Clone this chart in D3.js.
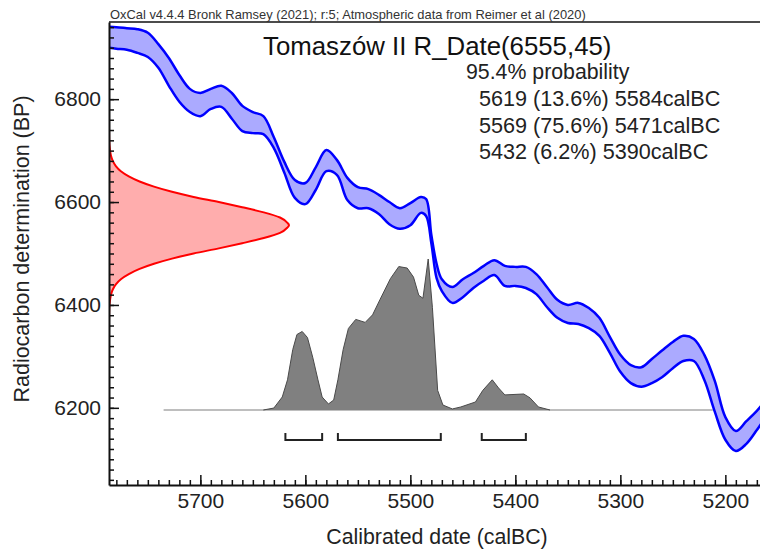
<!DOCTYPE html>
<html lang="en">
<head>
  <meta charset="UTF-8">
  <title>Tomaszów II R_Date</title>
  <script src="https://d3js.org/d3.v7.min.js"></script>
  <style>
    body { margin: 0; background: #fff; }
    svg { font-family: "Liberation Sans", Arial, sans-serif; }
  </style>
</head>
<body>
  <div id="root"></div>
  <script>
    // calibration curve (IntCal20)
    const calYears = [5787, 5780, 5770, 5760, 5750, 5740, 5730, 5720, 5710, 5700, 5690, 5680, 5670, 5660, 5650,
      5640, 5630, 5620, 5610, 5600, 5590, 5580, 5570, 5560, 5550, 5540, 5530, 5520, 5510, 5500, 5490, 5485,
      5480, 5475, 5470, 5460, 5450, 5440, 5430, 5420, 5410, 5400, 5390, 5380, 5370, 5360, 5350, 5340, 5330,
      5320, 5310, 5300, 5290, 5280, 5270, 5260, 5250, 5240, 5230, 5220, 5210, 5200, 5190, 5180, 5170, 5165]
    const upperBP = [6941, 6940, 6938, 6936, 6929, 6907, 6880, 6847, 6820, 6812, 6820, 6826, 6812, 6787, 6775,
      6767, 6726, 6678, 6643, 6637, 6668, 6701, 6682, 6647, 6629, 6625, 6614, 6600, 6588, 6598, 6610, 6606,
      6536, 6480, 6450, 6435, 6450, 6462, 6476, 6487, 6476, 6474, 6474, 6460, 6435, 6410, 6400, 6404, 6394,
      6375, 6338, 6303, 6283, 6279, 6295, 6312, 6328, 6340, 6334, 6303, 6252, 6182, 6155, 6174, 6194, 6206]
    const lowerBP = [6900, 6898, 6896, 6890, 6882, 6861, 6826, 6795, 6775, 6767, 6781, 6785, 6762, 6738, 6734,
      6732, 6705, 6657, 6608, 6596, 6624, 6660, 6653, 6604, 6588, 6588, 6577, 6557, 6548, 6555, 6579, 6573,
      6520, 6452, 6427, 6404, 6415, 6433, 6447, 6458, 6437, 6437, 6433, 6421, 6396, 6375, 6365, 6363, 6355,
      6340, 6307, 6270, 6248, 6241, 6248, 6260, 6277, 6291, 6291, 6254, 6192, 6138, 6116, 6130, 6157, 6172]

    // radiocarbon measurement 6555 ± 45 BP
    const rBP = [6740, 6720, 6700, 6690, 6680, 6670, 6660, 6650, 6640, 6630, 6620, 6610, 6600, 6590, 6580, 6570,
      6560, 6555, 6550, 6540, 6530, 6520, 6510, 6500, 6490, 6480, 6470, 6460, 6450, 6440, 6430, 6420, 6410, 6390, 6370]
    const rDensity = [0.0002, 0.001, 0.006, 0.011, 0.021, 0.038, 0.066, 0.11, 0.17, 0.25, 0.35, 0.47, 0.61, 0.74, 0.86, 0.95,
      0.99, 1, 0.99, 0.95, 0.86, 0.74, 0.61, 0.47, 0.35, 0.25, 0.17, 0.11, 0.066, 0.038, 0.021, 0.011, 0.006, 0.001, 0.0002]

    // calibrated probability
    const distYears = [5640, 5630, 5622, 5617, 5612, 5608, 5603, 5598, 5593, 5588, 5584, 5578, 5573, 5569, 5564, 5559,
      5552, 5543, 5536, 5529, 5519, 5511, 5503, 5497, 5492, 5488, 5483, 5479, 5474, 5469, 5460, 5452, 5438, 5431,
      5422, 5416, 5410, 5392, 5386, 5378, 5367]
    const distProb = [0, 0.013, 0.086, 0.2, 0.4, 0.5, 0.52, 0.48, 0.35, 0.2, 0.086, 0.04, 0.066, 0.2, 0.4, 0.54,
      0.6, 0.58, 0.63, 0.73, 0.87, 0.95, 0.94, 0.88, 0.76, 0.74, 1, 0.68, 0.13, 0.033, 0.007, 0.02, 0.053, 0.13,
      0.2, 0.146, 0.1, 0.106, 0.08, 0.02, 0]
    const distSpan = [5735, 5212]

    // 95.4% ranges
    const rangeFrom = [5619, 5569, 5432]
    const rangeTo = [5584, 5471, 5390]
    const rangeText = ['5619 (13.6%) 5584calBC', '5569 (75.6%) 5471calBC', '5432 (6.2%) 5390calBC']

    const xTicks = [5700, 5600, 5500, 5400, 5300, 5200]
    const yTicks = [6200, 6400, 6600, 6800]

    const width = 760, height = 550
    const mLeft = 109, mRight = 760, mTop = 22, mBottom = 485

    const svg = d3.select('#root')
      .append('svg')
      .attr('width', width)
      .attr('height', height)

    const x = d3.scaleLinear().domain([5787, 5167]).range([mLeft, mRight])
    const y = d3.scaleLinear().domain([6050, 6950]).range([mBottom, mTop])

    svg.append('clipPath').attr('id', 'plot')
      .append('rect').attr('x', mLeft).attr('y', mTop).attr('width', mRight - mLeft).attr('height', mBottom - mTop)

    const plot = svg.append('g').attr('clip-path', 'url(#plot)')

    // red measurement curve on the y axis
    const rWidth = 180
    const red = rBP.map((b, i) => ({ b, d: rDensity[i] }))
    plot.append('path')
      .datum(red)
      .attr('d', d3.area().curve(d3.curveMonotoneY)
        .y(d => y(d.b)).x0(mLeft).x1(d => mLeft + d.d * rWidth))
      .attr('fill', '#ffadad')
    plot.append('path')
      .datum(red)
      .attr('d', d3.line().curve(d3.curveMonotoneY).y(d => y(d.b)).x(d => mLeft + d.d * rWidth))
      .attr('fill', 'none')
      .attr('stroke', '#ff0000')
      .attr('stroke-width', 2)

    // calibrated distribution
    const baseY = 410, distH = 151
    plot.append('line')
      .attr('x1', x(distSpan[0])).attr('x2', x(distSpan[1]))
      .attr('y1', baseY).attr('y2', baseY)
      .attr('stroke', '#a8a8a8').attr('stroke-width', 1.5)
    const dist = distYears.map((t, i) => ({ t, p: distProb[i] }))
    plot.append('path')
      .datum(dist)
      .attr('d', d3.area().x(d => x(d.t)).y0(baseY).y1(d => baseY - d.p * distH))
      .attr('fill', '#808080')
    plot.append('path')
      .datum(dist)
      .attr('d', d3.line().x(d => x(d.t)).y(d => baseY - d.p * distH))
      .attr('fill', 'none')
      .attr('stroke', '#4a4a4a')
      .attr('stroke-width', 1)

    // calibration curve band
    const band = calYears.map((t, i) => ({ t, hi: upperBP[i], lo: lowerBP[i] }))
    plot.append('path')
      .datum(band)
      .attr('d', d3.area().curve(d3.curveCatmullRom).x(d => x(d.t)).y0(d => y(d.lo)).y1(d => y(d.hi)))
      .attr('fill', '#abaaff')
    ;['hi', 'lo'].forEach(k => {
      plot.append('path')
        .datum(band)
        .attr('d', d3.line().curve(d3.curveCatmullRom).x(d => x(d.t)).y(d => y(d[k])))
        .attr('fill', 'none')
        .attr('stroke', '#0000ff')
        .attr('stroke-width', 2.5)
    })

    // range brackets
    const bracketY = 440
    rangeFrom.forEach((a, i) => {
      const x1 = x(a), x2 = x(rangeTo[i])
      svg.append('path')
        .attr('d', `M${x1},${bracketY - 7}V${bracketY}H${x2}V${bracketY - 7}`)
        .attr('fill', 'none')
        .attr('stroke', '#222')
        .attr('stroke-width', 2)
    })

    // axes
    const yAxis = svg.append('g')
      .attr('transform', `translate(${mLeft},0)`)
      .call(d3.axisLeft(y).tickValues(yTicks).tickSizeInner(-10).tickSizeOuter(0).tickPadding(8).tickFormat(d3.format('d')))
    svg.append('g')
      .attr('transform', `translate(${mLeft},0)`)
      .call(d3.axisLeft(y).tickValues(d3.range(6060, 6950, 20)).tickSizeInner(-5).tickSizeOuter(0).tickFormat(''))
      .call(g => g.select('.domain').remove())

    const xAxis = svg.append('g')
      .attr('transform', `translate(0,${mBottom})`)
      .call(d3.axisBottom(x).tickValues(xTicks).tickSizeInner(-10).tickSizeOuter(0).tickPadding(8).tickFormat(d3.format('d')))
    svg.append('g')
      .attr('transform', `translate(0,${mBottom})`)
      .call(d3.axisBottom(x).tickValues(d3.range(5780, 5166, -10)).tickSizeInner(-5).tickSizeOuter(0).tickFormat(''))
      .call(g => g.select('.domain').remove())

    svg.selectAll('.tick line').attr('stroke', '#111').attr('stroke-width', 1.5)
    ;[yAxis, xAxis].forEach(a => {
      a.select('.domain').attr('stroke', '#111').attr('stroke-width', 2)
      a.selectAll('text').attr('font-size', 21).attr('fill', '#222').attr('font-family', '"Liberation Sans", Arial, sans-serif')
    })
    xAxis.selectAll('text').attr('dy', '0.71em')

    // top frame line
    svg.append('line')
      .attr('x1', mLeft).attr('x2', mRight).attr('y1', mTop).attr('y2', mTop)
      .attr('stroke', '#111').attr('stroke-width', 1.5)

    // texts
    svg.append('text')
      .attr('x', mLeft + 1).attr('y', 19)
      .attr('font-size', 12.9).attr('fill', '#333')
      .text('OxCal v4.4.4 Bronk Ramsey (2021); r:5; Atmospheric data from Reimer et al (2020)')

    svg.append('text')
      .attr('x', 263).attr('y', 55)
      .attr('font-size', 25.8).attr('fill', '#111')
      .text('Tomaszów II R_Date(6555,45)')

    svg.append('text')
      .attr('x', 466).attr('y', 79)
      .attr('font-size', 21.3).attr('fill', '#222')
      .text('95.4% probability')

    rangeText.forEach((t, i) => {
      svg.append('text')
        .attr('x', 479).attr('y', 106 + i * 26.5)
        .attr('font-size', 21.6).attr('fill', '#222')
        .text(t)
    })

    svg.append('text')
      .attr('transform', 'translate(29,249) rotate(-90)')
      .attr('text-anchor', 'middle')
      .attr('font-size', 21.5).attr('fill', '#222')
      .text('Radiocarbon determination (BP)')

    svg.append('text')
      .attr('x', 437).attr('y', 544)
      .attr('text-anchor', 'middle')
      .attr('font-size', 21.3).attr('fill', '#222')
      .text('Calibrated date (calBC)')
  </script>
</body>
</html>
